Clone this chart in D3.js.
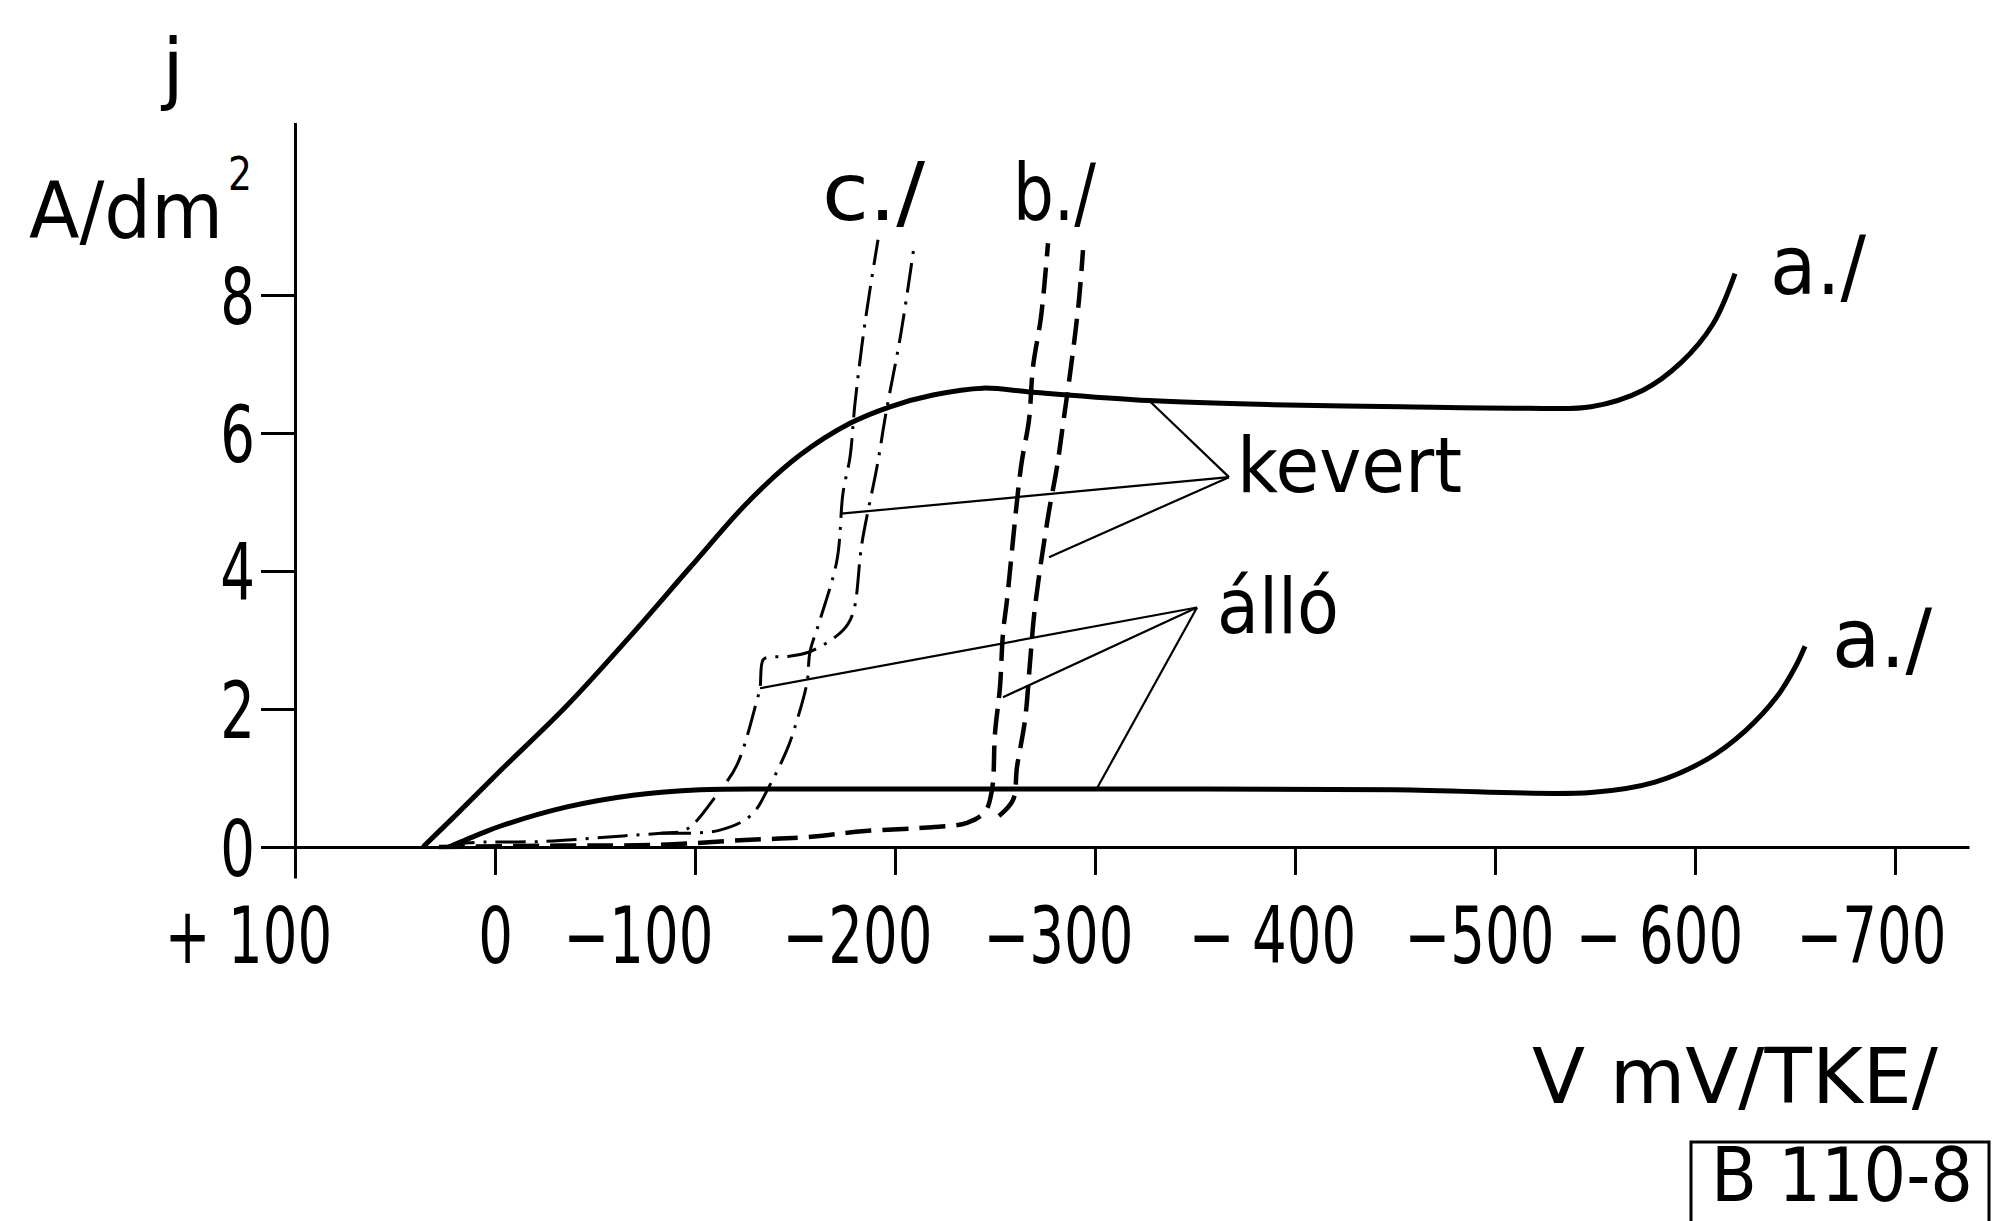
<!DOCTYPE html>
<html>
<head>
<meta charset="utf-8">
<script src="https://cdn.jsdelivr.net/npm/d3@7"></script>
<style>
  body { margin: 0; background: #fff; }
  svg { display: block; }
  text { fill: #000; font-family: "DejaVu Sans", sans-serif; }
</style>
</head>
<body>
<svg id="chart" width="1994" height="1221"></svg>
<script>
// tengelyek
const xTicks = [100, 0, -100, -200, -300, -400, -500, -600, -700];
const xTickLabels = ["+ 100", "0", "\u2212100", "\u2212200", "\u2212300", "\u2212 400", "\u2212500", "\u2212 600", "\u2212700"];
const yTicks = [0, 2, 4, 6, 8];

// görbék: [V mV, j A/dm2]
const aKevert = [[36, 0], [20, 0.45], [-2.5, 1.1], [-36, 2.05], [-69, 3.1], [-97.5, 4.05],
  [-127.5, 5.03], [-152.5, 5.68], [-177.5, 6.14], [-197.5, 6.38], [-219, 6.55], [-244, 6.65],
  [-269, 6.59], [-327, 6.47], [-389, 6.41], [-453, 6.38], [-516, 6.36], [-548, 6.38],
  [-574, 6.62], [-593, 7.02], [-609, 7.58], [-620, 8.31]];
const aAllo = [[23, 0], [6.5, 0.2], [-2.5, 0.3], [-36, 0.58], [-69, 0.75], [-102.5, 0.83],
  [-156, 0.84], [-300, 0.84], [-450, 0.83], [-548, 0.79], [-580, 0.94], [-606, 1.27],
  [-625, 1.68], [-641, 2.18], [-650, 2.60], [-655, 2.91]];
const bAllo = [[28, 0], [-32, 0.02], [-82, 0.03], [-125, 0.10], [-155, 0.14], [-185, 0.23],
  [-220, 0.29], [-236, 0.35], [-245, 0.51], [-248.5, 0.83], [-250, 1.65], [-252.5, 2.32],
  [-254, 3.10], [-256, 3.58], [-263, 5.51], [-267, 6.19], [-269, 6.96], [-273, 7.68], [-276.5, 8.75]];
const bKevert = [[-252, 0.45], [-259, 0.68], [-261, 1.16], [-265, 1.84], [-267.5, 2.67],
  [-270, 3.48], [-276.5, 4.78], [-281, 5.51], [-284.5, 6.23], [-288, 6.96], [-292, 7.93], [-294, 8.65]];
const cAllo = [[25, 0], [13, 0.06], [-24, 0.08], [-64, 0.16], [-83, 0.20], [-95.5, 0.25],
  [-111.5, 0.78], [-121, 1.19], [-131, 2.13], [-132.5, 2.30], [-134, 2.71], [-137, 2.75],
  [-146, 2.76], [-157.5, 2.83], [-174, 3.14], [-179, 3.39], [-183.5, 4.41], [-191, 5.51],
  [-195.5, 6.29], [-203, 7.45], [-209.5, 8.70]];
const cKevert = [[-83, 0.20], [-112, 0.24], [-128, 0.46], [-137.5, 0.90], [-146, 1.41],
  [-149, 1.65], [-156, 2.38], [-157.5, 2.83], [-162.5, 3.29], [-171, 4.16], [-174, 5.13],
  [-177.5, 5.65], [-180, 6.43], [-185, 7.6], [-191.5, 8.80]];

// mutató vonalak
const kevertPoint = [-367, 5.36];
const kevertTargets = [[-327, 6.47], [-173, 4.83], [-277, 4.20]];
const alloPoint = [-351, 3.47];
const alloTargets = [[-132.5, 2.30], [-254, 2.17], [-301, 0.85]];

const svg = d3.select("#chart");

const x = d3.scaleLinear().domain([111, -737]).range([273, 1969]);
const y = d3.scaleLinear().domain([-0.45, 10.5]).range([878, 122.5]);

// x tengely
const xLabelNudge = [-47, 0, -57, -38, -37, -23, -16, -36, -24];
const gx = svg.append("g")
    .attr("transform", `translate(0,${y(0)})`)
    .call(d3.axisBottom(x).tickValues(xTicks).tickSize(28).tickSizeOuter(0)
        .tickFormat((d, i) => xTickLabels[i]));
gx.select(".domain").attr("stroke-width", 3);
gx.selectAll(".tick line").attr("stroke-width", 3);
gx.selectAll(".tick text")
    .attr("y", 0).attr("dy", 0)
    .attr("transform", (d, i) => `translate(${xLabelNudge[i]},116) scale(0.7,1)`)
    .style("font-size", "78px");

// y tengely
const gy = svg.append("g")
    .attr("transform", `translate(${x(100)},0)`)
    .call(d3.axisLeft(y).tickValues(yTicks).tickSize(34).tickSizeOuter(0).tickPadding(6));
gy.select(".domain").attr("stroke-width", 3);
gy.selectAll(".tick line").attr("stroke-width", 3);
gy.selectAll(".tick text")
    .attr("x", 0).attr("dy", "0.36em")
    .attr("transform", "translate(-40,0) scale(0.7,1)")
    .style("font-size", "78px");

svg.selectAll(".tick text").attr("fill", "#000").style("font-family", "DejaVu Sans");
svg.selectAll(".domain, .tick line").attr("stroke", "#000");

// görbék
const line = d3.line()
    .x(d => x(d[0]))
    .y(d => y(d[1]))
    .curve(d3.curveCatmullRom.alpha(0.5));

const series = [
  { data: aKevert, width: 5, dash: null },
  { data: aAllo, width: 5, dash: null },
  { data: bAllo, width: 4.5, dash: "26,11" },
  { data: bKevert, width: 4.5, dash: "26,11" },
  { data: cAllo, width: 3, dash: "30,9,3,9" },
  { data: cKevert, width: 3, dash: "30,9,3,9" }
];

svg.selectAll("path.curve")
  .data(series)
  .enter()
  .append("path")
    .attr("class", "curve")
    .attr("d", d => line(d.data))
    .attr("fill", "none")
    .attr("stroke", "#000")
    .attr("stroke-width", d => d.width)
    .attr("stroke-dasharray", d => d.dash)
    .attr("stroke-linejoin", "round");

// mutatók
const leaders = kevertTargets.map(t => [kevertPoint, t])
  .concat(alloTargets.map(t => [alloPoint, t]));
svg.selectAll("line.leader")
  .data(leaders)
  .enter()
  .append("line")
    .attr("class", "leader")
    .attr("x1", d => x(d[0][0]))
    .attr("y1", d => y(d[0][1]))
    .attr("x2", d => x(d[1][0]))
    .attr("y2", d => y(d[1][1]))
    .attr("stroke", "#000")
    .attr("stroke-width", 2.2);

// feliratok (vízszintesen szűkítve a megadott szélességre)
function label(txt, px, py, size, len, anchor) {
  const t = svg.append("text")
    .attr("x", 0).attr("y", 0)
    .style("font-size", size + "px")
    .attr("text-anchor", anchor || "start")
    .text(txt);
  const k = len ? len / t.node().getComputedTextLength() : 1;
  t.attr("transform", `translate(${px},${py}) scale(${k},1)`);
  return t;
}

label("j", 173, 95, 78, null, "middle");
label("A/dm", 29, 238, 78, 194);
label("2", 228, 190, 46, 24);

label("c./", 822, 220, 80, 103);
label("b./", 1013, 220, 78, 83);
label("a./", 1770, 294, 82, 96);
label("a./", 1832, 667, 82, 100);
label("kevert", 1237, 492, 76, 225);
label("álló", 1217, 633, 76, 122);

label("V mV/TKE/", 1532, 1103, 76, 406);

svg.append("rect")
    .attr("x", 1691).attr("y", 1142)
    .attr("width", 298).attr("height", 100)
    .attr("fill", "none").attr("stroke", "#000").attr("stroke-width", 3);
label("B 110-8", 1711, 1201, 74, 262);
</script>
</body>
</html>
